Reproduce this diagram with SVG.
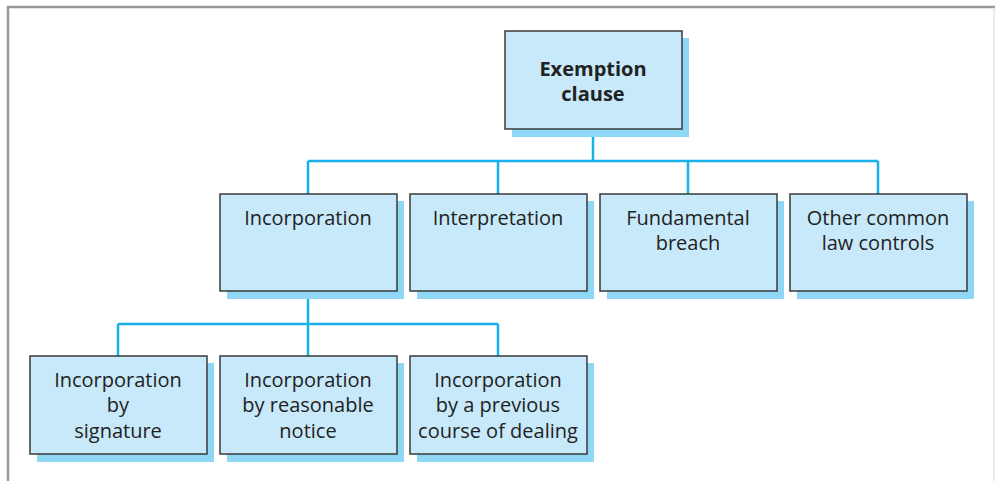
<svg xmlns="http://www.w3.org/2000/svg" width="995" height="481" viewBox="0 0 995 481">
<style>
.sh{fill:#8fd7f5}
.bx{fill:#c7e9f9;stroke:#3a3a3a;stroke-width:1.5}
.t{font-family:"Open Sans","Liberation Sans",sans-serif;font-size:20px;fill:#222;text-anchor:middle}
.b{font-weight:bold;font-size:20px}
.c{fill:none;stroke:#18b1ec;stroke-width:2.5}
</style>
<rect width="995" height="481" fill="#fff"/>
<path d="M8 481V7H995" fill="none" stroke="#999" stroke-width="2.5"/>
<line x1="994" y1="8" x2="994" y2="481" stroke="#e6e6e6" stroke-width="1.5"/>
<g id="connectors">
<path class="c" d="M593 129V161M308 161H878M308 161V194M498 161V194M688 161V194M878 161V194"/>
<path class="c" d="M308 291V324M118 324H498M118 324V356M308 324V356M498 324V356"/>
</g>
<g id="n-exemption">
<rect class="sh" x="512" y="38" width="177" height="99"/>
<rect class="bx" x="505" y="31" width="177" height="98"/>
<text class="t b" x="593" y="76">Exemption</text>
<text class="t b" x="593" y="101">clause</text>
</g>
<g id="n-incorporation">
<rect class="sh" x="227" y="201" width="177" height="98"/>
<rect class="bx" x="220" y="194" width="177" height="97"/>
<text class="t" x="308" y="225">Incorporation</text>
</g>
<g id="n-interpretation">
<rect class="sh" x="417" y="201" width="177" height="98"/>
<rect class="bx" x="410" y="194" width="177" height="97"/>
<text class="t" x="498" y="225">Interpretation</text>
</g>
<g id="n-fundamental">
<rect class="sh" x="607" y="201" width="177" height="98"/>
<rect class="bx" x="600" y="194" width="177" height="97"/>
<text class="t" x="688" y="225">Fundamental</text>
<text class="t" x="688" y="250">breach</text>
</g>
<g id="n-other">
<rect class="sh" x="797" y="201" width="177" height="98"/>
<rect class="bx" x="790" y="194" width="177" height="97"/>
<text class="t" x="878" y="225">Other common</text>
<text class="t" x="878" y="250">law controls</text>
</g>
<g id="n-signature">
<rect class="sh" x="37" y="363" width="177" height="99"/>
<rect class="bx" x="30" y="356" width="177" height="98"/>
<text class="t" x="118" y="387">Incorporation</text>
<text class="t" x="118" y="412">by</text>
<text class="t" x="118" y="438">signature</text>
</g>
<g id="n-notice">
<rect class="sh" x="227" y="363" width="177" height="99"/>
<rect class="bx" x="220" y="356" width="177" height="98"/>
<text class="t" x="308" y="387">Incorporation</text>
<text class="t" x="308" y="412">by reasonable</text>
<text class="t" x="308" y="438">notice</text>
</g>
<g id="n-dealing">
<rect class="sh" x="417" y="363" width="177" height="99"/>
<rect class="bx" x="410" y="356" width="177" height="98"/>
<text class="t" x="498" y="387">Incorporation</text>
<text class="t" x="498" y="412">by a previous</text>
<text class="t" x="498" y="438">course of dealing</text>
</g>
</svg>
